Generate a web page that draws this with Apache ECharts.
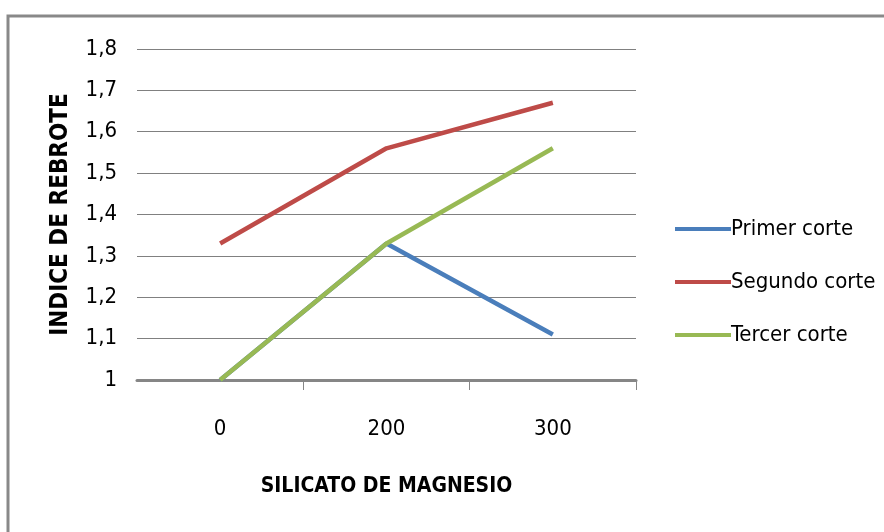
<!DOCTYPE html>
<html>
<head>
<meta charset="utf-8">
<script src="https://cdn.jsdelivr.net/npm/echarts@6/dist/echarts.min.js"></script>
<style>html,body{margin:0;padding:0;background:#fff;}#c{width:884px;height:532px;}</style>
</head>
<body>
<div id="c"></div>
<script>
const categories = ['0', '200', '300'];
const primerCorte = [1.00, 1.33, 1.11];
const segundoCorte = [1.33, 1.56, 1.67];
const tercerCorte = [1.00, 1.33, 1.56];
const seriesNames = ['Primer corte', 'Segundo corte', 'Tercer corte'];
const yMin = 1, yMax = 1.8, yStep = 0.1;

const narrow = '"Liberation Sans Narrow", "DejaVu Sans Condensed", sans-serif';
const chart = echarts.init(document.getElementById('c'), null, {renderer: 'canvas'});
chart.setOption({
  animation: false,
  backgroundColor: '#fff',
  graphic: [{
    type: 'rect', z: -1,
    shape: {x: 8, y: 16, width: 900, height: 600},
    style: {fill: 'none', stroke: '#898989', lineWidth: 3}
  }],
  grid: {left: 137, right: 248, top: 49, bottom: 152},
  legend: {
    orient: 'vertical', left: 670, top: 212,
    icon: 'rect', itemWidth: 56, itemHeight: 4, itemGap: 29,
    data: seriesNames,
    textStyle: {fontFamily: narrow, fontSize: 22, color: '#000', lineHeight: 24, padding: [0, 0, 0, -5]}
  },
  xAxis: {
    type: 'category', data: categories, boundaryGap: true,
    name: 'SILICATO DE MAGNESIO', nameLocation: 'middle', nameGap: 96,
    nameTextStyle: {fontFamily: narrow, fontWeight: 'bold', fontSize: 21, color: '#000'},
    axisLine: {show: true, lineStyle: {color: '#868686', width: 3}},
    axisTick: {show: true, inside: false, alignWithLabel: false, interval: (i) => i !== 0, length: 10, lineStyle: {color: '#868686', width: 1}},
    axisLabel: {fontFamily: narrow, fontSize: 22, color: '#000', margin: 38}
  },
  yAxis: {
    type: 'value', min: yMin, max: yMax, interval: yStep,
    name: 'INDICE DE REBROTE', nameLocation: 'middle', nameGap: 64, nameRotate: 90,
    nameTextStyle: {fontFamily: narrow, fontWeight: 'bold', fontSize: 24, color: '#000'},
    axisLine: {show: false}, axisTick: {show: false},
    splitLine: {lineStyle: {color: '#808080', width: 1}},
    axisLabel: {fontFamily: narrow, fontSize: 22, color: '#000', margin: 20,
      formatter: v => (Math.abs(v - Math.round(v)) < 1e-9 ? String(Math.round(v)) : v.toFixed(1).replace('.', ','))}
  },
  series: [
    {name: seriesNames[0], type: 'line', data: primerCorte, showSymbol: false, symbol: 'none', lineStyle: {width: 4.5, color: '#4A7EBB'}, itemStyle: {color: '#4A7EBB'}},
    {name: seriesNames[1], type: 'line', data: segundoCorte, showSymbol: false, symbol: 'none', lineStyle: {width: 4.5, color: '#BE4B48'}, itemStyle: {color: '#BE4B48'}},
    {name: seriesNames[2], type: 'line', data: tercerCorte, showSymbol: false, symbol: 'none', lineStyle: {width: 4.5, color: '#98B954'}, itemStyle: {color: '#98B954'}}
  ]
});
</script>
</body>
</html>
